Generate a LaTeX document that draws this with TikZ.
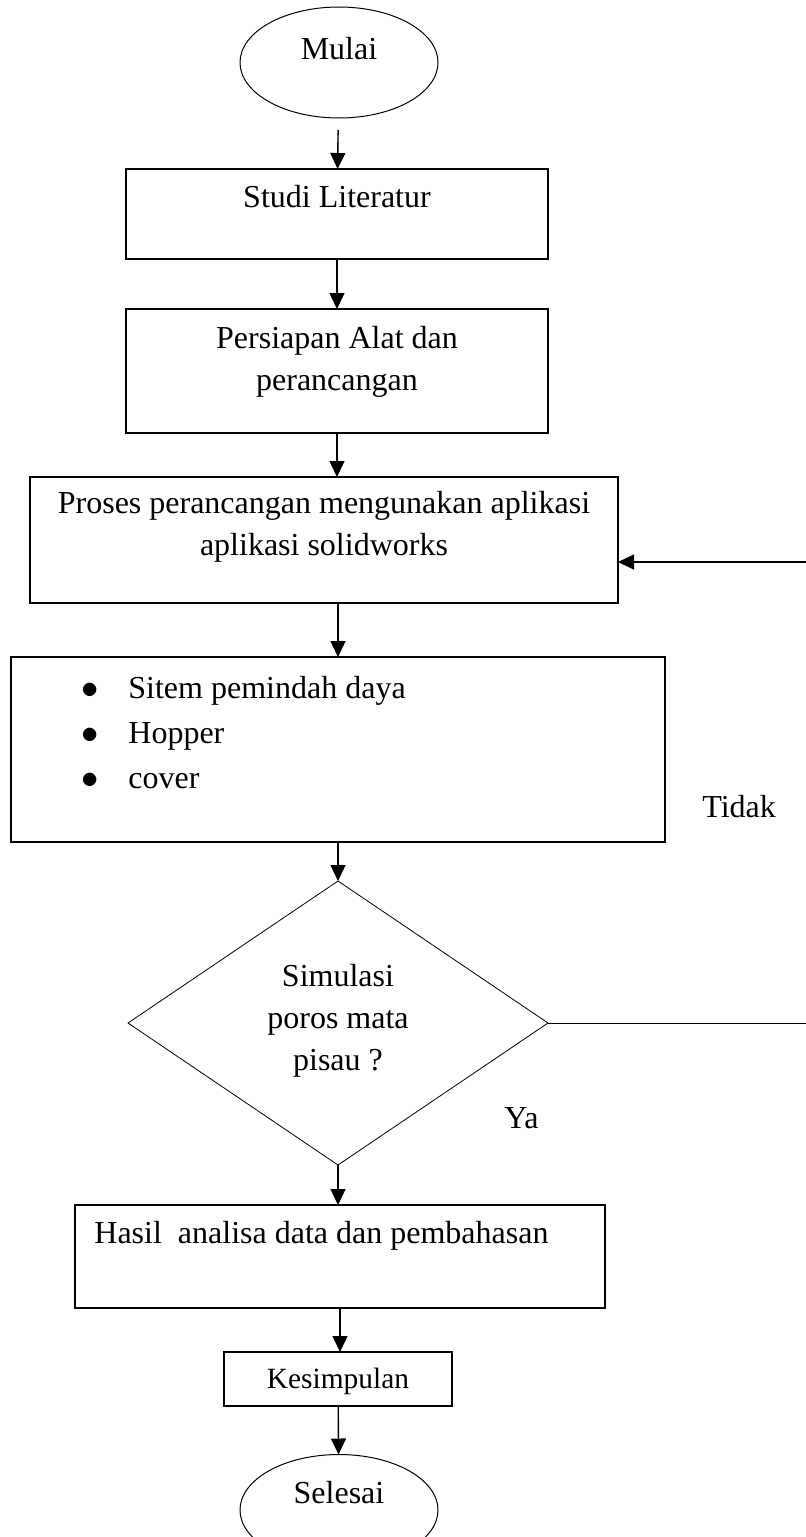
\documentclass[tikz,border=0pt]{standalone}
\usepackage{fontspec}
\setmainfont{Liberation Serif}
\usetikzlibrary{arrows.meta,shapes.geometric}

\tikzset{
    kotak/.style={draw=black, line width=0.6pt, rectangle, inner sep=0pt, outer sep=0pt},
    ujung/.style={draw=black, line width=0.5pt, ellipse, inner sep=0pt, outer sep=0pt,
        minimum width=99pt, minimum height=55.5pt},
    keputusan/.style={draw=black, line width=0.4pt, diamond, inner sep=0pt, outer sep=0pt,
        minimum width=210pt, minimum height=142pt},
    teks/.style={inner sep=0pt, font=\fontsize{16}{21}\selectfont},
    alur/.style={-{Triangle[length=8pt,width=7.5pt]}, line width=0.7pt}
}
\newcommand{\titik}{\makebox[23.5pt][l]{$\bullet$}}

\begin{document}
\begin{tikzpicture}[x=0.5pt, y=-0.5pt]
    \useasboundingbox (0,0) rectangle (806,1537);
    % bentuk
    \node[ujung] (mulai) at (339,62.5) {};
    \node[kotak, minimum width=211pt, minimum height=45pt] (studi) at (337,214) {};
    \node[kotak, minimum width=211pt, minimum height=62pt] (persiapan) at (337,371) {};
    \node[kotak, minimum width=294pt, minimum height=63pt] (proses) at (324,540) {};
    \node[kotak, minimum width=327pt, minimum height=92.5pt] (daftar) at (338,749.5) {};
    \node[keputusan] (simulasi) at (338,1023) {};
    \node[kotak, minimum width=265pt, minimum height=51.5pt] (hasil) at (340,1256.5) {};
    \node[kotak, minimum width=114pt, minimum height=27pt] (kesimpulan) at (338,1379) {};
    \node[ujung] (selesai) at (339,1510) {};
    % teks (base = baris terakhir)
    \node[teks, anchor=base] (mulaiT) at (339,59) {Mulai};
    \node[teks, anchor=base] (studiT) at (337,207) {Studi Literatur};
    \node[teks, anchor=base, align=center] (persiapanT) at (337,390) {Persiapan Alat dan\\perancangan};
    \node[teks, anchor=base, align=center] (prosesT) at (324,555) {Proses perancangan mengunakan aplikasi\\aplikasi solidworks};
    \node[teks, anchor=base west, align=left, font=\fontsize{16}{22.5}\selectfont] (daftarT) at (81,788)
        {\titik Sitem pemindah daya\\
         \titik Hopper\\
         \titik cover};
    \node[teks, anchor=base west] (tidak) at (702,817) {Tidak};
    \node[teks, anchor=base, align=center] (simulasiT) at (338,1070) {Simulasi\\poros mata\\pisau ?};
    \node[teks, anchor=base west] (ya) at (504,1128) {Ya};
    \node[teks, anchor=base west] (hasilT) at (94,1243) {Hasil~ analisa data dan pembahasan};
    \node[teks, anchor=base, font=\fontsize{14.7}{18}\selectfont] (kesimpulanT) at (338,1388) {Kesimpulan};
    \node[teks, anchor=base] (selesaiT) at (339,1503) {Selesai};
    % alur
    \coordinate (kanan) at (806,1023);
    \coordinate (kananatas) at (806,562);
    \draw[alur, shorten <=6pt] (mulai) -- (studi);
    \draw[alur] (studi) -- (persiapan);
    \draw[alur] (persiapan.south) -- (persiapan.south |- proses.north);
    \draw[alur] (daftar.north |- proses.south) -- (daftar.north);
    \draw[alur] (daftar) -- (simulasi);
    \draw[alur] (simulasi.south) -- (simulasi.south |- hasil.north);
    \draw[alur] (hasil.south) -- (hasil.south |- kesimpulan.north);
    \draw[alur] (kesimpulan) -- (selesai);
    \draw[line width=0.5pt] (simulasi.east) -- (kanan);
    \draw[alur] (kananatas) -- (kananatas -| proses.east);
\end{tikzpicture}
\end{document}
